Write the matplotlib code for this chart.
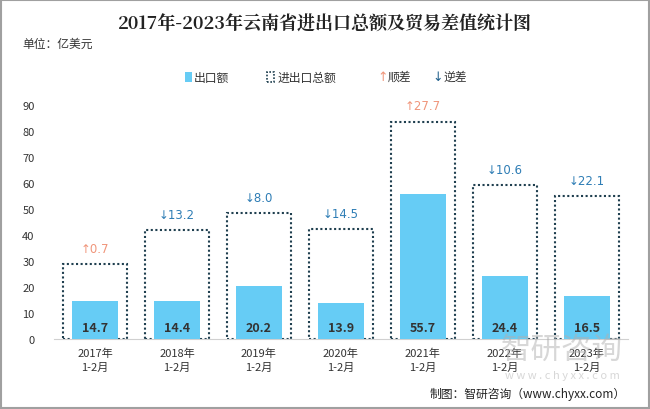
import matplotlib.pyplot as plt
from matplotlib.patches import Rectangle
import numpy as np

plt.rcParams['font.family'] = ['Noto Sans CJK SC', 'DejaVu Sans']

categories = ['2017年\n1-2月', '2018年\n1-2月', '2019年\n1-2月', '2020年\n1-2月',
              '2021年\n1-2月', '2022年\n1-2月', '2023年\n1-2月']
export_vals = [14.7, 14.4, 20.2, 13.9, 55.7, 24.4, 16.5]
total_vals = [28.7, 42.0, 48.4, 42.3, 83.7, 59.4, 55.1]
balance_vals = [0.7, -13.2, -8.0, -14.5, 27.7, -10.6, -22.1]

up_color = '#F0957A'
down_color = '#2E7DB5'
bar_color = '#66CCF5'
box_color = '#1F3F4F'

fig = plt.figure(figsize=(6.5, 4.1), dpi=100)
ax = fig.add_axes([0.083, 0.171, 0.883, 0.570])

x = np.arange(len(categories))
ax.bar(x, total_vals, width=0.78, facecolor='none', edgecolor=box_color,
       linestyle=(0, (1, 1.2)), linewidth=1.5, zorder=2)
ax.bar(x, export_vals, width=0.56, color=bar_color, zorder=3)

for i in range(len(x)):
    ax.text(x[i], 1.8, f'{export_vals[i]:.1f}', ha='center', va='bottom',
            fontsize=9, fontweight='bold', color='#333333', zorder=4)
    b = balance_vals[i]
    if b >= 0:
        lab, col = f'↑{b:.1f}', up_color
    else:
        lab, col = f'↓{-b:.1f}', down_color
    ax.text(x[i], total_vals[i] + 3.5, lab, ha='center', va='bottom',
            fontsize=8.5, color=col, family=['DejaVu Sans'])

ax.set_xlim(-0.5, len(x) - 0.5)
ax.set_ylim(0, 90)
ax.set_yticks(range(0, 91, 10))
ax.set_xticks(x)
ax.set_xticklabels(categories, fontsize=8, color='#333333', linespacing=1.5)
ax.tick_params(axis='y', length=0, labelsize=8, labelcolor='#333333', pad=14)
ax.tick_params(axis='x', length=0, pad=6)
for s in ['top', 'right', 'left']:
    ax.spines[s].set_visible(False)
ax.spines['bottom'].set_color('#D0D0D0')

fig.text(0.5, 0.94, '2017年-2023年云南省进出口总额及贸易差值统计图', ha='center',
         va='center', fontsize=13, fontweight='bold', color='#222222',
         family=['Noto Serif CJK SC', 'Noto Sans CJK SC', 'DejaVu Sans'])
fig.text(0.034, 0.893, '单位：亿美元', ha='left', va='center', fontsize=8.5, color='#333333')

# legend
fig.patches.append(Rectangle((0.284, 0.797), 0.011, 0.024, transform=fig.transFigure,
                             facecolor=bar_color, edgecolor='none'))
fig.text(0.298, 0.809, '出口额', ha='left', va='center', fontsize=8.5, color='#333333')
fig.patches.append(Rectangle((0.411, 0.797), 0.011, 0.024, transform=fig.transFigure,
                             facecolor='none', edgecolor=box_color, linestyle=(0, (1, 1)),
                             linewidth=1.2))
fig.text(0.427, 0.809, '进出口总额', ha='left', va='center', fontsize=8.5, color='#333333')
fig.text(0.580, 0.812, '↑', ha='left', va='center', fontsize=9, color=up_color,
         family=['DejaVu Sans'])
fig.text(0.597, 0.812, '顺差', ha='left', va='center', fontsize=8.5, color='#333333')
fig.text(0.665, 0.812, '↓', ha='left', va='center', fontsize=9, color='#1F5F8B',
         family=['DejaVu Sans'])
fig.text(0.682, 0.812, '逆差', ha='left', va='center', fontsize=8.5, color='#333333')

# watermark
fig.text(0.865, 0.145, '智研咨询', ha='center', va='center', fontsize=22,
         color='#B0B0B0', alpha=0.5)
fig.text(0.865, 0.083, 'w w w . c h y x x . c o m', ha='center', va='center',
         fontsize=8, color='#B0B0B0', alpha=0.5)

fig.text(0.962, 0.037, '制图：智研咨询（www.chyxx.com）', ha='right', va='center',
         fontsize=8.5, color='#222222')

fig.patches.append(Rectangle((0.001, 0.002), 0.997, 0.995, transform=fig.transFigure,
                             facecolor='none', edgecolor='#A0A0A0', linewidth=1.5))

fig.savefig('out.png', dpi=100)
plt.close()
